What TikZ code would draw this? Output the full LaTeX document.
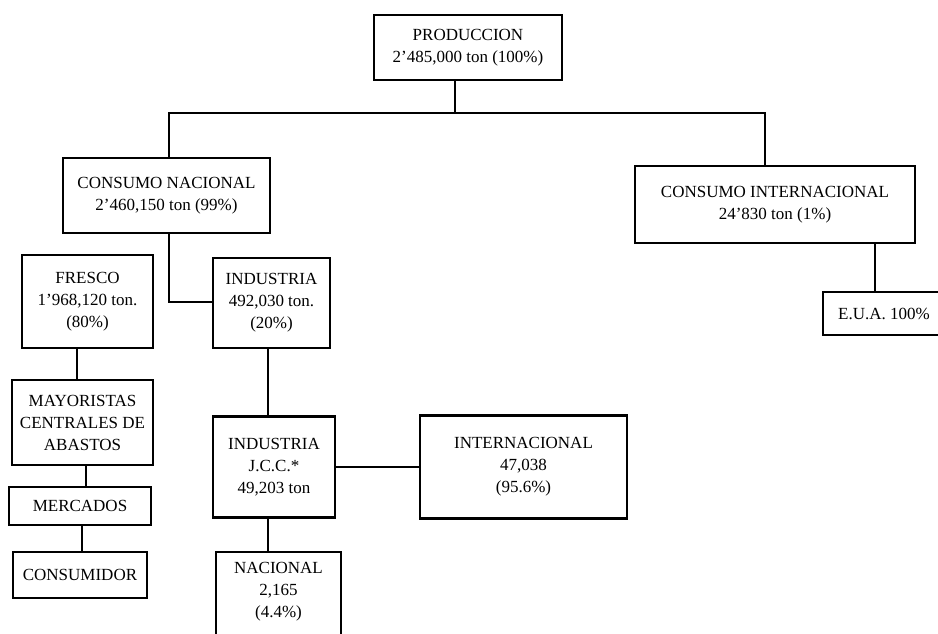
\documentclass[tikz,border=0pt]{standalone}
\usepackage{fontspec}
\setmainfont{Liberation Serif}
\usetikzlibrary{positioning,calc}
\tikzset{
    caja/.style={draw, line width=2.3pt, inner sep=0pt, align=center},
    linea/.style={line width=2.2pt},
}

\begin{document}
\begin{tikzpicture}[x=1pt,y=-1pt,font=\fontsize{17}{22}\selectfont]
    \useasboundingbox (0,0) rectangle (938,634);
    \node[caja, minimum width=188, minimum height=65] (prod) at (468,47.5) {PRODUCCION\\2'485,000 ton (100\%)};
    \node[caja, minimum width=207, minimum height=75] (cnac) at (166.5,195.5) {CONSUMO NACIONAL\\2'460,150 ton (99\%)};
    \node[caja, minimum width=280, minimum height=77] (cint) at (775,204.5) {CONSUMO INTERNACIONAL\\24'830 ton (1\%)};
    \node[caja, minimum width=131, minimum height=93] (fresco) at (87.5,301.5) {FRESCO\\1'968,120 ton.\\(80\%)};
    \node[caja, minimum width=117, minimum height=90] (ind) at (271.5,303) {INDUSTRIA\\492,030 ton.\\(20\%)};
    \node[caja, minimum width=122, minimum height=43] (eua) at (884,313.5) {E.U.A. 100\%};
    \node[caja, minimum width=141, minimum height=85] (may) at (82.5,422.5) {MAYORISTAS\\CENTRALES DE\\ABASTOS};
    \node[caja, minimum width=142, minimum height=38] (merc) at (80,506) {MERCADOS};
    \node[caja, minimum width=134, minimum height=46] (cons) at (80,575) {CONSUMIDOR};
    \node[caja, minimum width=122, minimum height=101] (jcc) at (274,467) {INDUSTRIA\\J.C.C.*\\49,203 ton};
    \node[caja, minimum width=207, minimum height=103] (inter) at (523.5,467) {INTERNACIONAL\\47,038\\(95.6\%)};
    \node[caja, minimum width=125, minimum height=108] (nac) at (278.5,606) {};
    \node[align=center] (nactxt) at (278.5,592) {NACIONAL\\2,165\\(4.4\%)};
    \coordinate (busL) at (169,113);
    \coordinate (busR) at (765,113);
    \coordinate (bajaP) at (455,113);
    \coordinate (codo) at (169,302);
    \coordinate (xE) at (875,0);
    \coordinate (xF) at (77,0);
    \coordinate (xM) at (86,0);
    \coordinate (xC) at (82,0);
    \coordinate (xI) at (268,0);
    \draw[linea] (bajaP |- prod.south) -- (bajaP);
    \draw[linea] (cnac.north -| busL) -- (busL) -- (busR) -- (cint.north -| busR);
    \draw[linea] (cnac.south -| codo) -- (codo) -- (codo -| ind.west);
    \draw[linea] (cint.south -| xE) -- (eua.north -| xE);
    \draw[linea] (fresco.south -| xF) -- (may.north -| xF);
    \draw[linea] (may.south -| xM) -- (merc.north -| xM);
    \draw[linea] (merc.south -| xC) -- (cons.north -| xC);
    \draw[linea] (ind.south -| xI) -- (jcc.north -| xI);
    \draw[linea] (jcc.south -| xI) -- (nac.north -| xI);
    \draw[linea] (jcc.east) -- (inter.west);
\end{tikzpicture}
\end{document}
